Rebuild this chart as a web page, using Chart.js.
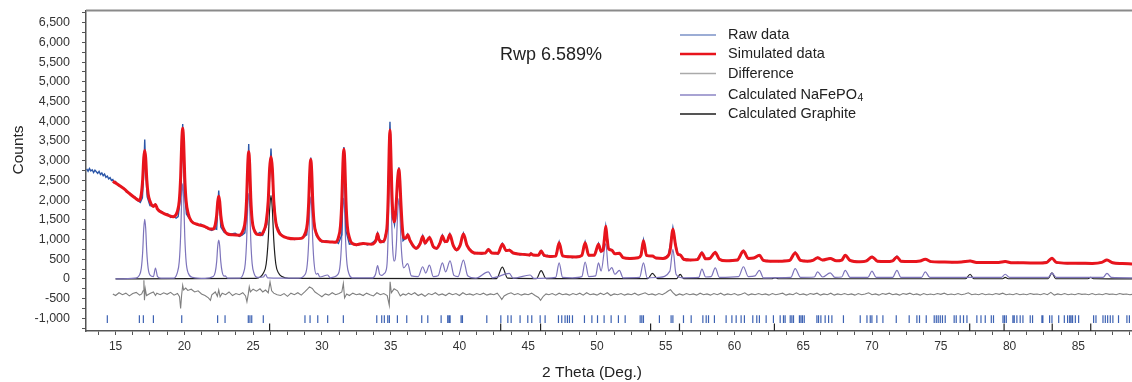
<!DOCTYPE html>
<html>
<head>
<meta charset="utf-8">
<script src="https://cdn.jsdelivr.net/npm/chart.js@4.4.1/dist/chart.umd.min.js"></script>
<style>
  html, body { margin: 0; padding: 0; background: #fff; }
  #wrap { width: 1132px; height: 382px; position: relative; }
</style>
</head>
<body>
<div id="wrap"><canvas id="xrd"></canvas></div>
<script>
// 2θ (deg) , counts
const rawData = [[12.9,2790],[13.0,2730],[13.1,2800],[13.2,2740],[13.3,2770],[13.4,2700],[13.5,2760],[13.6,2720],[13.7,2680],[13.8,2730],[13.9,2650],[14.0,2690],[14.1,2620],[14.2,2660],[14.3,2580],[14.4,2610],[14.5,2540],[14.6,2570],[14.7,2500],[14.8,2520],[14.9,2440],[15.0,2470],[15.2,2370],[15.4,2350],[15.6,2310],[15.8,2200],[16.0,2190],[16.2,2100],[16.4,2080],[16.6,1990],[16.8,1940],[16.95,2060],[17.05,2700],[17.12,3540],[17.2,2650],[17.3,2080],[17.5,1860],[17.7,1850],[17.9,1900],[18.05,1780],[18.2,1730],[18.4,1700],[18.6,1640],[18.8,1650],[19.0,1560],[19.2,1590],[19.4,1540],[19.55,1580],[19.75,2150],[19.88,3930],[20.0,2250],[20.15,1650],[20.3,1560],[20.5,1480],[20.7,1420],[21.0,1360],[21.2,1390],[21.5,1310],[21.7,1280],[22.0,1230],[22.2,1280],[22.35,1260],[22.5,2240],[22.65,1320],[22.9,1180],[23.1,1150],[23.4,1140],[23.7,1160],[24.0,1080],[24.2,1110],[24.4,1170],[24.55,1750],[24.68,3420],[24.8,1850],[25.0,1290],[25.3,1140],[25.5,1180],[25.7,1110],[26.0,1380],[26.15,2250],[26.3,3310],[26.45,2250],[26.65,1430],[27.0,1140],[27.3,1060],[27.5,1050],[28.0,1000],[28.5,1030],[28.9,1120],[29.05,1830],[29.19,3080],[29.33,1720],[29.6,1100],[30.0,940],[30.3,970],[30.6,930],[31.0,950],[31.2,900],[31.45,1120],[31.6,3350],[31.75,1220],[32.0,880],[32.3,900],[32.5,850],[32.8,880],[33.0,920],[33.3,860],[33.6,900],[33.9,990],[34.05,1170],[34.2,1000],[34.5,930],[34.75,1320],[34.95,3990],[35.15,1620],[35.28,1380],[35.45,2020],[35.6,2830],[35.75,1620],[35.9,970],[36.1,1040],[36.24,1140],[36.4,960],[36.6,820],[36.85,760],[37.15,920],[37.33,1100],[37.5,890],[37.82,1070],[38.1,800],[38.35,760],[38.6,940],[38.76,1110],[38.95,930],[39.1,970],[39.3,1150],[39.55,830],[39.8,720],[40.05,870],[40.29,1160],[40.55,830],[40.9,700],[41.1,640],[41.3,670],[41.6,630],[41.9,670],[42.1,760],[42.35,650],[42.6,670],[42.8,630],[43.12,900],[43.4,700],[43.63,750],[43.9,640],[44.1,660],[44.4,610],[44.7,640],[45.1,590],[45.2,660],[45.35,600],[45.75,620],[45.94,720],[46.15,580],[46.4,600],[46.6,550],[47.0,590],[47.25,940],[47.5,570],[47.9,580],[48.2,540],[48.5,570],[48.9,590],[49.14,940],[49.4,590],[49.8,610],[50.11,900],[50.3,690],[50.45,770],[50.64,1330],[50.85,770],[51.08,740],[51.3,630],[51.63,670],[51.9,530],[52.1,540],[52.4,500],[52.7,530],[53.0,530],[53.2,610],[53.38,990],[53.6,590],[54.03,590],[54.3,520],[54.6,530],[54.8,510],[55.2,610],[55.4,1020],[55.52,1300],[55.7,920],[55.9,610],[56.05,620],[56.3,490],[56.6,500],[56.8,470],[57.3,500],[57.63,680],[57.9,500],[58.2,530],[58.6,690],[58.9,490],[59.2,470],[59.4,450],[59.8,480],[60.2,470],[60.65,720],[61.0,510],[61.4,540],[61.81,610],[62.1,460],[62.4,470],[62.6,440],[63.0,460],[63.2,440],[63.6,470],[64.0,460],[64.41,680],[64.8,460],[65.1,470],[65.3,440],[65.7,480],[66.04,550],[66.4,470],[66.96,530],[67.4,450],[67.8,490],[68.05,610],[68.4,460],[68.8,450],[69.1,430],[69.6,470],[70.0,570],[70.4,440],[70.7,460],[71.0,430],[71.5,470],[71.81,580],[72.1,440],[72.5,450],[72.8,430],[73.2,450],[73.5,460],[73.87,510],[74.3,430],[74.7,440],[75.0,420],[75.4,440],[75.8,415],[76.2,430],[76.5,420],[77.13,470],[77.6,410],[78.0,430],[78.5,410],[78.9,420],[79.2,410],[79.68,450],[80.2,400],[80.6,420],[81.0,400],[81.5,415],[82.0,400],[82.7,430],[83.08,540],[83.4,410],[83.8,400],[84.2,390],[84.6,405],[85.0,390],[85.5,400],[86.0,385],[86.7,425],[87.08,490],[87.5,400],[87.9,390],[88.2,380],[88.6,390],[88.9,370]];

const simulated = [[14.8,2480],[15.2,2390],[15.6,2290],[16.0,2170],[16.4,2060],[16.72,1990],[16.87,2150],[16.97,2520],[17.05,3070],[17.12,3260],[17.19,3070],[17.27,2520],[17.37,2150],[17.52,1960],[17.75,1840],[17.9,1890],[18.05,1770],[18.4,1680],[18.8,1620],[19.2,1580],[19.48,1700],[19.63,1980],[19.73,2580],[19.81,3480],[19.88,3820],[19.95,3480],[20.03,2580],[20.13,1980],[20.28,1660],[20.5,1470],[21.0,1380],[21.5,1330],[21.85,1270],[22.1,1270],[22.25,1380],[22.35,1620],[22.43,1970],[22.5,2100],[22.57,1970],[22.65,1620],[22.75,1380],[22.9,1240],[23.1,1150],[23.5,1120],[24.0,1110],[24.28,1240],[24.43,1490],[24.53,2060],[24.61,2910],[24.68,3230],[24.75,2910],[24.83,2060],[24.93,1490],[25.08,1240],[25.3,1130],[25.55,1120],[25.75,1200],[25.95,1440],[26.1,1990],[26.2,2800],[26.3,3100],[26.4,2800],[26.5,1990],[26.65,1440],[26.85,1200],[27.1,1100],[27.5,1040],[28.0,1020],[28.5,1030],[28.79,1160],[28.94,1400],[29.04,1940],[29.12,2730],[29.19,3030],[29.26,2730],[29.34,1940],[29.44,1400],[29.59,1160],[29.8,1020],[30.0,960],[30.6,940],[31.0,930],[31.2,1050],[31.35,1340],[31.45,1980],[31.53,2930],[31.6,3290],[31.67,2930],[31.75,1980],[31.85,1340],[32.0,1050],[32.2,900],[32.5,870],[33.0,900],[33.6,880],[33.85,930],[33.95,1000],[34.05,1150],[34.15,1000],[34.27,940],[34.5,960],[34.65,1120],[34.75,1400],[34.83,2200],[34.89,3250],[34.95,3780],[35.01,3250],[35.08,2300],[35.15,1700],[35.25,1450],[35.33,1550],[35.42,2000],[35.5,2500],[35.6,2780],[35.67,2500],[35.75,1900],[35.85,1300],[35.95,1050],[36.1,1030],[36.24,1120],[36.4,980],[36.85,780],[37.15,900],[37.33,1080],[37.5,910],[37.82,1050],[38.1,820],[38.35,780],[38.6,920],[38.76,1090],[38.95,950],[39.1,950],[39.3,1130],[39.55,850],[39.8,740],[40.05,850],[40.29,1140],[40.55,850],[40.9,690],[41.3,650],[41.9,660],[42.1,750],[42.35,660],[42.8,650],[43.12,880],[43.4,720],[43.63,730],[43.9,660],[44.4,630],[45.1,610],[45.2,640],[45.35,610],[45.75,600],[45.94,710],[46.15,600],[46.6,570],[47.0,580],[47.25,920],[47.5,590],[47.9,565],[48.5,560],[48.9,600],[49.14,920],[49.4,600],[49.8,600],[50.11,880],[50.3,700],[50.45,750],[50.55,1050],[50.64,1340],[50.73,1050],[50.85,760],[51.08,730],[51.3,640],[51.63,650],[51.9,540],[52.4,520],[53.0,540],[53.2,600],[53.38,970],[53.6,600],[54.03,580],[54.3,530],[54.8,520],[55.2,600],[55.35,800],[55.45,1130],[55.52,1260],[55.6,1130],[55.7,880],[55.9,620],[56.05,610],[56.3,500],[56.8,480],[57.3,490],[57.63,660],[57.9,510],[58.2,520],[58.6,670],[58.9,500],[59.4,460],[60.2,480],[60.65,710],[61.0,520],[61.4,530],[61.81,600],[62.1,470],[62.6,450],[63.2,450],[64.0,470],[64.41,660],[64.8,470],[65.3,450],[65.7,470],[66.04,540],[66.4,480],[66.96,520],[67.4,460],[67.8,480],[68.05,600],[68.4,470],[69.1,435],[69.6,460],[70.0,560],[70.4,450],[71.0,440],[71.5,460],[71.81,560],[72.1,450],[72.8,440],[73.5,455],[73.87,500],[74.3,440],[75.0,430],[75.8,425],[76.5,430],[77.13,455],[77.6,420],[78.5,420],[79.2,420],[79.68,440],[80.2,410],[81.0,410],[82.0,405],[82.7,420],[83.08,525],[83.4,420],[84.2,400],[85.0,400],[86.0,395],[86.7,420],[87.08,480],[87.5,410],[88.2,390],[88.9,380]];

const difference = [[14.8,-380],[15.0,-420],[15.25,-350],[15.5,-400],[15.75,-360],[16.0,-430],[16.25,-370],[16.5,-340],[16.75,-410],[16.9,-380],[17.0,-300],[17.06,-30],[17.1,-540],[17.16,-250],[17.25,-420],[17.5,-370],[17.75,-330],[17.9,-420],[18.0,-360],[18.25,-400],[18.5,-350],[18.75,-390],[19.0,-340],[19.25,-410],[19.5,-370],[19.65,-450],[19.73,-750],[19.8,-420],[19.88,-160],[19.95,-280],[20.1,-230],[20.25,-290],[20.5,-260],[20.75,-330],[21.0,-300],[21.25,-380],[21.5,-420],[21.75,-480],[21.9,-540],[22.0,-400],[22.25,-330],[22.4,-440],[22.5,-280],[22.6,-450],[22.75,-360],[23.0,-400],[23.25,-330],[23.5,-420],[23.75,-370],[24.0,-400],[24.25,-350],[24.45,-430],[24.55,-580],[24.65,-380],[24.72,-200],[24.8,-330],[25.0,-260],[25.25,-310],[25.5,-250],[25.7,-330],[25.9,-280],[26.1,-350],[26.23,-73],[26.35,-300],[26.5,-360],[26.75,-400],[27.0,-420],[27.25,-370],[27.5,-440],[27.75,-360],[28.0,-400],[28.25,-350],[28.5,-410],[28.75,-330],[28.95,-260],[29.1,-200],[29.3,-240],[29.5,-330],[29.75,-390],[30.0,-450],[30.25,-380],[30.5,-410],[30.75,-350],[31.0,-400],[31.25,-370],[31.45,-330],[31.56,-115],[31.65,-480],[31.8,-380],[32.0,-420],[32.25,-360],[32.5,-400],[32.75,-380],[33.0,-420],[33.25,-360],[33.5,-400],[33.75,-430],[34.0,-350],[34.25,-400],[34.5,-370],[34.75,-420],[34.9,-665],[34.96,-73],[35.05,-350],[35.25,-250],[35.5,-300],[35.7,-430],[35.9,-380],[36.1,-410],[36.3,-360],[36.5,-400],[36.75,-350],[37.0,-420],[37.25,-380],[37.5,-440],[37.75,-370],[38.0,-400],[38.25,-350],[38.5,-410],[38.75,-380],[39.0,-420],[39.25,-360],[39.5,-400],[39.75,-370],[40.0,-420],[40.25,-350],[40.5,-400],[40.75,-380],[41.0,-410],[41.25,-370],[41.5,-400],[41.75,-360],[42.0,-410],[42.25,-380],[42.5,-400],[42.75,-360],[42.95,-450],[43.08,-520],[43.25,-430],[43.5,-380],[43.75,-350],[44.0,-400],[44.25,-370],[44.5,-410],[44.75,-380],[45.0,-400],[45.25,-360],[45.5,-420],[45.75,-470],[45.9,-540],[46.1,-440],[46.3,-380],[46.5,-400],[46.75,-370],[47.0,-410],[47.25,-360],[47.5,-400],[47.75,-380],[48.0,-410],[48.25,-370],[48.5,-400],[48.75,-360],[49.0,-410],[49.25,-350],[49.5,-400],[49.75,-380],[50.0,-410],[50.25,-360],[50.5,-400],[50.75,-350],[51.0,-420],[51.25,-380],[51.5,-400],[51.75,-370],[52.0,-410],[52.25,-380],[52.5,-400],[52.75,-360],[53.0,-410],[53.25,-380],[53.5,-350],[53.75,-400],[54.0,-380],[54.25,-410],[54.5,-370],[54.75,-400],[55.0,-350],[55.2,-300],[55.35,-270],[55.5,-340],[55.75,-420],[56.0,-380],[56.25,-410],[56.5,-370],[56.75,-400],[57.0,-380],[57.25,-410],[57.5,-360],[57.75,-400],[58.0,-380],[58.25,-410],[58.5,-370],[58.75,-400],[59.0,-360],[59.25,-410],[59.5,-380],[59.75,-400],[60.0,-370],[60.25,-410],[60.5,-390],[60.75,-350],[61.0,-410],[61.25,-380],[61.5,-400],[61.75,-370],[62.0,-400],[62.25,-380],[62.5,-410],[62.75,-370],[63.0,-400],[63.25,-380],[63.5,-360],[63.75,-410],[64.0,-380],[64.25,-400],[64.5,-350],[64.75,-400],[65.0,-380],[65.25,-410],[65.5,-370],[65.75,-390],[66.0,-360],[66.25,-410],[66.5,-380],[66.75,-400],[67.0,-360],[67.25,-410],[67.5,-380],[67.75,-400],[68.0,-370],[68.25,-400],[68.5,-380],[68.75,-410],[69.0,-370],[69.25,-400],[69.5,-380],[69.75,-350],[70.0,-400],[70.25,-380],[70.5,-410],[70.75,-370],[71.0,-390],[71.25,-360],[71.5,-400],[71.75,-380],[72.0,-410],[72.25,-370],[72.5,-390],[72.75,-360],[73.0,-400],[73.25,-380],[73.5,-410],[73.75,-370],[74.0,-400],[74.25,-380],[74.5,-400],[74.75,-370],[75.0,-390],[75.25,-360],[75.5,-400],[75.75,-380],[76.0,-400],[76.25,-370],[76.5,-400],[76.75,-380],[77.0,-350],[77.25,-400],[77.5,-380],[77.75,-400],[78.0,-370],[78.25,-400],[78.5,-380],[78.75,-400],[79.0,-370],[79.25,-390],[79.5,-360],[79.75,-400],[80.0,-380],[80.25,-400],[80.5,-370],[80.75,-400],[81.0,-380],[81.25,-400],[81.5,-370],[81.75,-390],[82.0,-380],[82.25,-400],[82.5,-370],[82.75,-400],[83.0,-340],[83.25,-410],[83.5,-380],[83.75,-400],[84.0,-370],[84.25,-400],[84.5,-380],[84.75,-400],[85.0,-370],[85.25,-390],[85.5,-380],[85.75,-400],[86.0,-370],[86.25,-400],[86.5,-380],[86.75,-400],[87.0,-370],[87.25,-390],[87.5,-380],[87.75,-400],[88.0,-370],[88.25,-390],[88.5,-380],[88.75,-400],[88.9,-390]];

const calcNaFePO4 = [[15.0,0],[16.4,20],[16.72,90],[16.87,270],[16.97,680],[17.05,1280],[17.12,1510],[17.19,1280],[17.27,680],[17.37,270],[17.52,90],[17.75,60],[17.9,275],[18.05,60],[18.3,20],[19.2,20],[19.48,150],[19.63,440],[19.73,1090],[19.81,2060],[19.88,2420],[19.95,2060],[20.03,1090],[20.13,440],[20.28,150],[20.6,40],[21.5,15],[22.1,60],[22.25,180],[22.35,440],[22.43,840],[22.5,985],[22.57,840],[22.65,440],[22.75,180],[22.9,70],[22.96,80],[23.15,20],[24.0,20],[24.28,130],[24.43,390],[24.53,980],[24.61,1840],[24.68,2170],[24.75,1840],[24.83,980],[24.93,390],[25.08,130],[25.3,40],[25.75,50],[25.9,120],[26.05,30],[28.3,20],[28.79,120],[28.94,380],[29.04,940],[29.12,1770],[29.19,2080],[29.26,1770],[29.34,940],[29.44,380],[29.59,120],[29.7,140],[29.85,50],[30.42,100],[30.6,30],[31.18,120],[31.33,370],[31.43,920],[31.51,1740],[31.58,2050],[31.65,1740],[31.73,920],[31.83,370],[31.98,120],[32.2,30],[33.7,30],[33.9,120],[34.05,340],[34.2,120],[34.35,90],[34.5,130],[34.65,200],[34.75,450],[34.83,1300],[34.89,2500],[34.95,2970],[35.01,2500],[35.08,1400],[35.15,750],[35.25,450],[35.33,500],[35.42,900],[35.5,1600],[35.6,2040],[35.67,1700],[35.75,950],[35.85,450],[35.95,280],[36.24,390],[36.5,80],[37.0,60],[37.33,310],[37.55,150],[37.82,350],[38.1,60],[38.45,80],[38.76,410],[39.0,180],[39.32,460],[39.6,90],[39.9,60],[40.29,480],[40.6,80],[41.2,20],[42.1,180],[42.4,30],[43.63,140],[43.9,20],[45.14,100],[45.4,15],[47.0,40],[47.25,410],[47.5,40],[48.2,30],[48.9,60],[49.14,430],[49.4,60],[49.9,80],[50.11,410],[50.3,200],[50.64,900],[50.85,200],[51.08,290],[51.3,120],[51.63,220],[51.9,30],[53.1,40],[53.38,410],[53.65,30],[54.5,40],[55.3,200],[55.52,750],[55.75,120],[56.2,30],[57.4,40],[57.63,250],[57.9,50],[58.3,60],[58.6,280],[58.9,40],[60.3,60],[60.65,310],[61.0,60],[61.5,80],[61.81,220],[62.1,30],[64.1,40],[64.41,260],[64.8,40],[65.8,50],[66.04,180],[66.4,50],[66.96,155],[67.3,40],[67.8,50],[68.05,220],[68.4,40],[69.7,40],[69.99,200],[70.3,40],[71.5,40],[71.81,220],[72.1,40],[73.6,40],[73.87,180],[74.2,40],[79.4,40],[79.68,120],[80.0,40],[82.8,40],[83.08,150],[83.4,40],[86.8,40],[87.08,140],[87.4,40],[88.9,30]];

const calcGraphite = [[15.0,0],[25.2,15],[25.55,60],[25.75,150],[25.95,380],[26.1,1000],[26.2,1750],[26.3,2120],[26.4,1750],[26.5,1000],[26.65,380],[26.85,150],[27.1,60],[27.6,15],[42.7,10],[43.12,300],[43.5,20],[45.6,10],[45.94,210],[46.3,10],[53.7,10],[54.03,140],[54.4,10],[55.8,10],[56.05,115],[56.3,10],[62.7,5],[62.95,30],[63.2,5],[76.8,5],[77.13,120],[77.4,5],[79.5,5],[79.68,40],[79.9,5],[82.8,5],[83.08,155],[83.35,5],[85.7,5],[85.9,40],[86.1,5],[88.9,0]];

// reflection markers (2θ)
const ticksNaFePO4 = [14.40,16.73,17.02,17.75,19.81,22.42,22.96,24.65,24.77,24.90,25.74,28.77,29.14,29.70,30.42,31.56,33.99,34.35,34.54,34.79,34.91,35.49,36.17,37.26,37.70,38.67,39.15,39.25,39.32,40.12,40.22,41.99,43.01,43.52,43.76,44.41,44.97,45.26,45.87,46.23,47.20,47.44,47.68,47.85,48.00,48.22,49.09,49.63,50.04,50.52,51.03,51.56,52.05,53.14,53.26,53.38,54.54,55.39,55.52,56.29,56.85,57.70,57.94,58.11,58.54,59.39,59.81,60.12,60.48,60.72,61.33,61.62,61.81,62.30,62.83,63.32,63.56,63.68,64.05,64.17,64.29,64.72,64.83,64.94,65.07,65.99,66.11,66.28,66.59,66.84,67.08,67.92,69.14,69.63,69.87,69.99,70.35,70.79,71.76,72.70,73.26,73.45,73.94,74.52,74.67,74.81,74.96,75.12,75.32,75.97,76.12,76.41,76.65,76.90,77.62,77.92,78.23,78.67,78.83,79.52,79.63,79.76,80.24,80.34,80.53,80.77,80.97,81.50,81.67,82.35,82.42,82.91,83.08,83.57,83.98,84.22,84.37,84.47,84.58,84.78,85.02,86.11,86.28,86.79,86.96,87.13,87.32,87.51,87.92,88.53,88.71];
const ticksGraphite = [26.2,43.0,45.9,53.9,56.0,62.9,77.1,79.6,83.1,85.9];

const xTickLabels = [15,20,25,30,35,40,45,50,55,60,65,70,75,80,85];
const yTickLabels = [-1000,-500,0,500,1000,1500,2000,2500,3000,3500,4000,4500,5000,5500,6000,6500];

const FONT = '"Liberation Sans", Arial, sans-serif';

function pts(arr) { return arr.map(([x, y]) => ({ x, y })); }
// each marker becomes a short vertical segment, broken by a null point
function markerSegs(list, lo, hi) {
  const out = [];
  list.forEach(p => { out.push({ x: p, y: lo }, { x: p, y: hi }, { x: p, y: null }); });
  return out;
}

const legendItems = [
  { label: 'Raw data', color: '#3a5cab', width: 1.2 },
  { label: 'Simulated data', color: '#e8141c', width: 2.6 },
  { label: 'Difference', color: '#aaaaaa', width: 1.4 },
  { label: 'Calculated NaFePO', sub: '4', color: '#8b84c4', width: 1.6 },
  { label: 'Calculated Graphite', color: '#555555', width: 2.2 }
];
const legendRows = [35, 54, 73.5, 95, 114];

const decorPlugin = {
  id: 'decor',
  afterDraw(chart) {
    const { ctx, chartArea } = chart;
    ctx.save();
    // top frame line
    ctx.strokeStyle = '#8a8a8a';
    ctx.lineWidth = 2;
    ctx.beginPath();
    ctx.moveTo(chartArea.left, chartArea.top);
    ctx.lineTo(chartArea.right, chartArea.top);
    ctx.stroke();

    // legend
    ctx.textBaseline = 'middle';
    ctx.textAlign = 'left';
    legendItems.forEach((it, i) => {
      const y = legendRows[i];
      ctx.strokeStyle = it.color;
      ctx.lineWidth = it.width;
      ctx.beginPath();
      ctx.moveTo(680, y);
      ctx.lineTo(716, y);
      ctx.stroke();
      ctx.fillStyle = '#222';
      ctx.font = '14.5px ' + FONT;
      ctx.fillText(it.label, 728, y);
      if (it.sub) {
        const w = ctx.measureText(it.label).width;
        ctx.font = '10.5px ' + FONT;
        ctx.fillText(it.sub, 728 + w + 0.5, y + 3);
      }
    });

    // Rwp
    ctx.fillStyle = '#222';
    ctx.font = '18px ' + FONT;
    ctx.fillText('Rwp 6.589%', 500, 55);

    // axis titles
    ctx.font = '15.5px ' + FONT;
    ctx.textAlign = 'center';
    ctx.fillText('2 Theta (Deg.)', 592, 373);
    ctx.translate(19, 150);
    ctx.rotate(-Math.PI / 2);
    ctx.fillText('Counts', 0, 0);
    ctx.restore();
  }
};

new Chart(document.getElementById('xrd'), {
  type: 'line',
  data: {
    datasets: [
      { label: 'Simulated data', data: pts(simulated), borderColor: '#e8141c', borderWidth: 3, cubicInterpolationMode: 'monotone', order: 0 },
      { label: 'Raw data', data: pts(rawData), borderColor: '#2b56a8', borderWidth: 1.4, order: 1 },
      { label: 'Calculated NaFePO4', data: pts(calcNaFePO4), borderColor: '#7d74bb', borderWidth: 1.2, cubicInterpolationMode: 'monotone', order: 2 },
      { label: 'Calculated Graphite', data: pts(calcGraphite), borderColor: '#1e1e1e', borderWidth: 1.2, cubicInterpolationMode: 'monotone', order: 3 },
      { label: 'Difference', data: pts(difference), borderColor: '#7f7f7f', borderWidth: 1.1, order: 4 },
      { label: 'NaFePO4 reflections', data: markerSegs(ticksNaFePO4, -1115, -920), borderColor: '#3d62b3', borderWidth: 1.2, spanGaps: false, order: 5 },
      { label: 'Graphite reflections', data: markerSegs(ticksGraphite, -1318, -1130), borderColor: '#222', borderWidth: 1.2, spanGaps: false, order: 6 }
    ]
  },
  options: {
    responsive: true,
    maintainAspectRatio: false,
    animation: false,
    events: [],
    layout: { padding: { top: 10.5, right: 0, left: 0, bottom: 0 } },
    elements: { point: { radius: 0 }, line: { fill: false } },
    plugins: { legend: { display: false }, tooltip: { enabled: false } },
    scales: {
      x: {
        type: 'linear',
        min: 12.85,
        max: 88.9,
        afterBuildTicks(axis) {
          const t = [];
          for (let v = 13.75; v <= 88.9; v += 1.25) t.push({ value: v });
          axis.ticks = t;
        },
        afterFit(axis) { axis.height = 51; axis.paddingLeft = 0; axis.paddingRight = 0; },
        ticks: {
          autoSkip: false,
          maxRotation: 0,
          padding: 4,
          color: '#333',
          font: { family: FONT, size: 12 },
          callback: v => (xTickLabels.includes(v) ? String(v) : '')
        },
        grid: { drawOnChartArea: false, drawTicks: true, tickLength: 4, tickColor: '#555', tickWidth: 1 },
        border: { display: true, color: '#555', width: 1.5 }
      },
      y: {
        type: 'linear',
        min: -1320,
        max: 6810,
        afterBuildTicks(axis) {
          const t = [];
          for (let v = -1250; v <= 6750; v += 250) t.push({ value: v });
          axis.ticks = t;
        },
        afterFit(axis) { axis.width = 86; axis.paddingTop = 0; axis.paddingBottom = 0; },
        ticks: {
          autoSkip: false,
          padding: 12,
          color: '#333',
          font: { family: FONT, size: 12.5 },
          callback: v => (yTickLabels.includes(v) ? v.toLocaleString('en-US') : '')
        },
        grid: { drawOnChartArea: false, drawTicks: true, tickLength: 4, tickColor: '#555', tickWidth: 1 },
        border: { display: true, color: '#555', width: 1.5 }
      }
    }
  },
  plugins: [decorPlugin]
});
</script>
</body>
</html>
